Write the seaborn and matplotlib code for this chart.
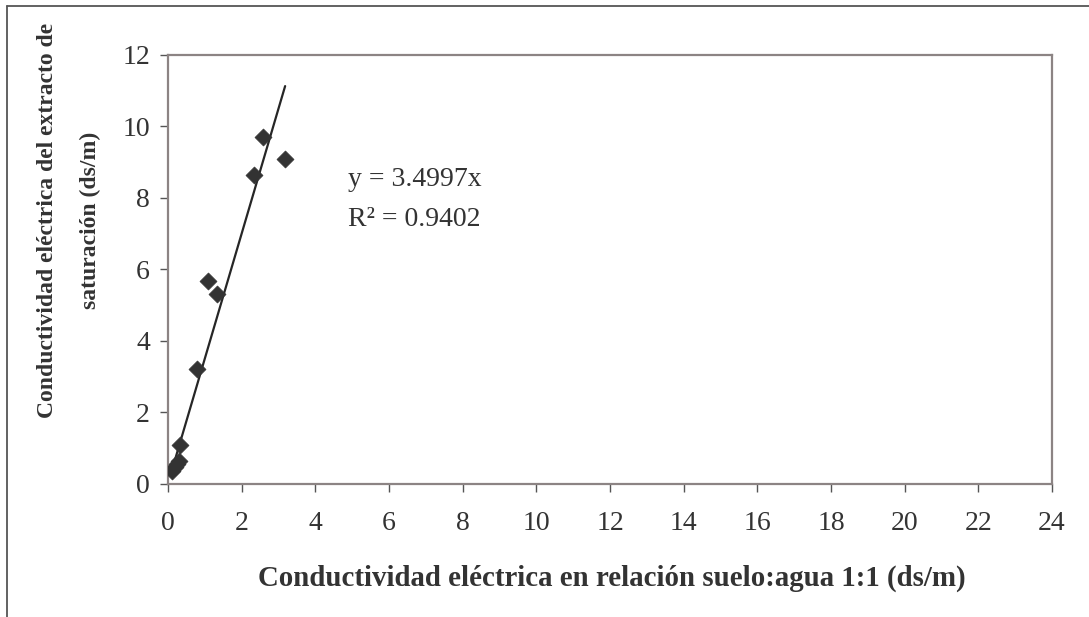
import matplotlib
matplotlib.use("Agg")
import matplotlib.pyplot as plt
from matplotlib.lines import Line2D
import seaborn as sns
import pandas as pd

# ---- data ----
ce_suelo_agua = [0.12, 0.18, 0.25, 0.30, 0.33, 0.78, 1.09, 1.34, 2.34, 2.57, 3.18]
ce_extracto = [0.35, 0.45, 0.55, 0.62, 1.08, 3.21, 5.68, 5.30, 8.65, 9.69, 9.10]
slope = 3.4997
r2 = 0.9402
x_ticks = [0, 2, 4, 6, 8, 10, 12, 14, 16, 18, 20, 22, 24]
y_ticks = [0, 2, 4, 6, 8, 10, 12]

xlabel = "Conductividad eléctrica en relación suelo:agua 1:1 (ds/m)"
ylabel_line1 = "Conductividad eléctrica del extracto de"
ylabel_line2 = "saturación (ds/m)"

sns.set_theme(style="white")
plt.rcParams["font.family"] = ["Liberation Serif", "DejaVu Serif"]

W, H = 1089, 617
fig = plt.figure(figsize=(W / 100, H / 100), dpi=100)
fig.patch.set_facecolor("white")

left, right, bottom, top = 168, 1052, 483.5, 55
ax = fig.add_axes([left / W, 1 - bottom / H, (right - left) / W, (bottom - top) / H])

df = pd.DataFrame({"x": ce_suelo_agua, "y": ce_extracto})
xmin, xmax = min(ce_suelo_agua), max(ce_suelo_agua)
trend = pd.DataFrame({"x": [xmin, xmax], "y": [slope * xmin, slope * xmax]})

sns.lineplot(data=trend, x="x", y="y", ax=ax, color="#262626", lw=1.6, zorder=2)
sns.scatterplot(data=df, x="x", y="y", ax=ax, marker="D", s=75, color="#333333",
                edgecolor="#333333", linewidth=0.5, zorder=3)

ax.set_xlim(0, 24)
ax.set_ylim(0, 12)
ax.set_xticks(x_ticks)
ax.set_yticks(y_ticks)
ax.set_xticklabels([str(t) for t in x_ticks])
ax.set_yticklabels([str(t) for t in y_ticks])

spine_col = "#8c8484"
for s in ax.spines.values():
    s.set_visible(True)
    s.set_color(spine_col)
    s.set_linewidth(1.6)

ax.tick_params(axis="both", which="major", direction="out", length=6, width=1.0,
               color="#555555", labelsize=20, labelcolor="#333333")
ax.tick_params(axis="x", bottom=True, pad=14)
ax.tick_params(axis="y", left=True, pad=7)
ax.set_xlabel("")
ax.set_ylabel("")
ax.grid(False)

# trendline equation
ax.text(4.9, 8.33, f"y = {slope:.4f}x", fontsize=20, color="#333333", va="baseline", ha="left")
ax.text(4.9, 7.21, f"R² = {r2:.4f}", fontsize=20, color="#333333", va="baseline", ha="left")

# axis titles
fig.text(612 / W, 1 - 578 / H, xlabel, ha="center", va="center", fontsize=20.8,
         fontweight="bold", color="#333333")
fig.text(48 / W, 1 - 220 / H, ylabel_line1, ha="center", va="center", rotation=90,
         fontsize=17, fontweight="bold", color="#333333")
fig.text(90 / W, 1 - 220 / H, ylabel_line2, ha="center", va="center", rotation=90,
         fontsize=17, fontweight="bold", color="#333333")

# outer chart border (top and left visible)
fig.add_artist(Line2D([7 / W, 1.0], [1 - 6 / H, 1 - 6 / H], transform=fig.transFigure,
                      color="#555555", lw=1.3))
fig.add_artist(Line2D([7 / W, 7 / W], [0.0, 1 - 6 / H], transform=fig.transFigure,
                      color="#555555", lw=1.3))

fig.savefig("out.png", dpi=100, facecolor="white")
